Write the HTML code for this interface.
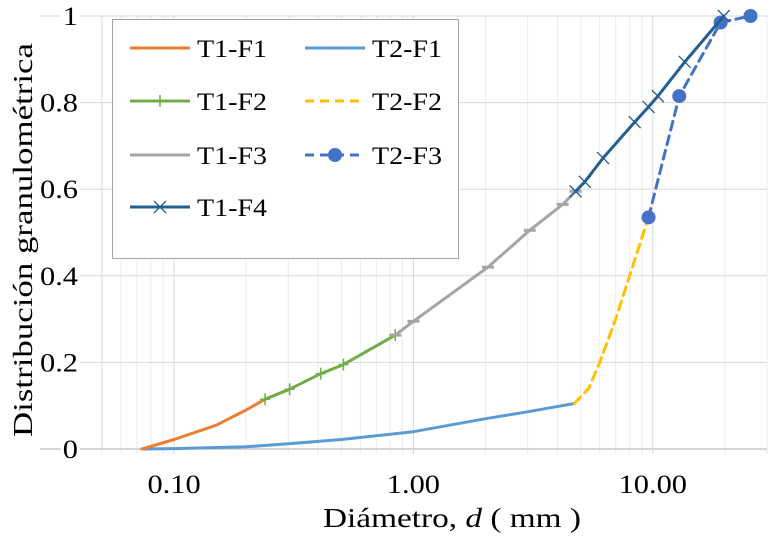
<!DOCTYPE html>
<html><head><meta charset="utf-8"><style>
body{margin:0;background:#fff;}
svg text{font-family:"Liberation Serif",serif;fill:#000;}
</style></head><body>
<svg id="chart" width="782" height="537"></svg>
<script>
const xTicks=[0.1,1,10];
const xTickLabels=["0.10","1.00","10.00"];
const yTicks=[0,0.2,0.4,0.6,0.8,1];
const yTickLabels=["0","0.2","0.4","0.6","0.8","1"];
const t1f1X=[0.0734,0.1,0.15,0.2,0.24];
const t1f1Y=[0,0.022,0.055,0.09,0.115];
const t1f2X=[0.24,0.304,0.41,0.51,0.84];
const t1f2Y=[0.115,0.138,0.174,0.195,0.263];
const t1f3X=[0.84,1.0,2.05,3.06,4.2,4.76];
const t1f3Y=[0.263,0.295,0.42,0.505,0.565,0.595];
const t1f4X=[4.76,5.2,6.2,8.4,9.6,10.5,13.6,19.8];
const t1f4Y=[0.595,0.617,0.672,0.755,0.79,0.815,0.894,1.0];
const t2f1X=[0.0734,0.1,0.2,0.3,0.5,1.0,2.0,3.0,4.7];
const t2f1Y=[0,0.001,0.005,0.012,0.022,0.04,0.07,0.086,0.105];
const t2f2X=[4.7,5.4,6.0,7.0,8.0,9.6];
const t2f2Y=[0.105,0.14,0.2,0.3,0.4,0.535];
const t2f3X=[9.6,12.9,19.2,25.6];
const t2f3Y=[0.535,0.815,0.985,1.0];

const L=102,R=767,T=16,B=449;
const xmin=0.05,xmax=30;
const SX=1.17;
const X=v=>L+(Math.log10(v)-Math.log10(xmin))/(Math.log10(xmax)-Math.log10(xmin))*(R-L);
const Y=v=>B-v*(B-T);
const NS="http://www.w3.org/2000/svg";
const svg=document.getElementById('chart');
function el(t,a,p){const e=document.createElementNS(NS,t);for(const k in a)e.setAttribute(k,a[k]);(p||svg).appendChild(e);return e;}
function stretch(t,len){const w=len||t.getComputedTextLength()*SX;t.setAttribute('textLength',w.toFixed(1));t.setAttribute('lengthAdjust','spacingAndGlyphs');}

const grid=el('g',{});


for(let d=-2;d<=1;d++)for(let m=1;m<=9;m++){const v=m*Math.pow(10,d);if(v<xmin-1e-9||v>xmax+1e-9)continue;
 el('line',{x1:X(v),x2:X(v),y1:T,y2:B+5,stroke:m===1?'#d9d9d9':'#ececec','stroke-width':1},grid);}
yTicks.forEach(v=>{el('line',{x1:40,x2:R,y1:Y(v),y2:Y(v),stroke:'#d9d9d9','stroke-width':1},grid);});
el('line',{x1:L,x2:L,y1:T,y2:B,stroke:'#d9d9d9'},grid);
const xa=el('line',{x1:40,x2:R,y1:B,y2:B,stroke:'#bfbfbf','stroke-width':1.2});



yTicks.forEach((v,i)=>{const t=el('text',{x:78,y:Y(v)+9,'font-size':26,'text-anchor':'end'});t.textContent=yTickLabels[i];


const bg=el('rect',{x:78-t.getComputedTextLength()*SX-2,y:Y(v)-12,width:t.getComputedTextLength()*SX+4,height:24,fill:'#fff'});svg.insertBefore(bg,t);
stretch(t);});
xTicks.forEach((v,i)=>{const t=el('text',{x:X(v),y:493,'font-size':26,'text-anchor':'middle'});t.textContent=xTickLabels[i];

stretch(t);});

const yt=el('text',{x:0,y:0,'font-size':27,'text-anchor':'middle',transform:'translate(32,240) rotate(-90)'});
yt.textContent='Distribución granulométrica';


stretch(yt,394);
const xt=el('text',{x:452,y:527,'font-size':27,'text-anchor':'middle'});
xt.innerHTML='Diámetro, <tspan font-style="italic">d</tspan>  ( mm )';


stretch(xt,258);

function path(xs,ys){return xs.map((x,i)=>(i?'L':'M')+X(x).toFixed(1)+' '+Y(ys[i]).toFixed(1)).join(' ');}
function series(name,xs,ys,color,dash,marker){
 const g=el('g',{});
 
 
 const a={d:path(xs,ys),fill:'none',stroke:color,'stroke-width':3,'stroke-linejoin':'round','stroke-linecap':'round'};
 if(dash)a['stroke-dasharray']=dash;
 el('path',a,g);
 if(marker)xs.forEach((x,i)=>{const cx=X(x),cy=Y(ys[i]);
  if(marker==='plus'){el('path',{d:`M${cx-5} ${cy}h10M${cx} ${cy-6}v12`,stroke:color,'stroke-width':1.5},g);}
  if(marker==='dash'){el('path',{d:`M${cx-6} ${cy}h12`,stroke:color,'stroke-width':3},g);}
  if(marker==='x'){el('path',{d:`M${cx-6} ${cy-6}l12 12M${cx-6} ${cy+6}l12 -12`,stroke:color,'stroke-width':1.3},g);}
  if(marker==='dot'){el('circle',{cx,cy,r:7,fill:color},g);}
 });
}
series('series-t2-f1',t2f1X,t2f1Y,'#5b9bd5');
series('series-t2-f2',t2f2X,t2f2Y,'#ffc000','9 6');
series('series-t1-f1',t1f1X,t1f1Y,'#ed7d31');
series('series-t1-f2',t1f2X,t1f2Y,'#70ad47',null,'plus');
series('series-t1-f3',t1f3X,t1f3Y,'#a5a5a5',null,'dash');
series('series-t2-f3',t2f3X,t2f3Y,'#4472c4','9 6','dot');
series('series-t1-f4',t1f4X,t1f4Y,'#255e91',null,'x');

const lg=el('g',{});


el('rect',{x:112.5,y:19.5,width:346,height:239,fill:'#fff',stroke:'#a6a6a6'},lg);
const entries=[['T1-F1','#ed7d31',null,null,130,48],['T1-F2','#70ad47',null,'plus',130,101],['T1-F3','#a5a5a5',null,'dash',130,155],['T1-F4','#255e91',null,'x',130,207],
['T2-F1','#5b9bd5',null,null,305,48],['T2-F2','#ffc000','9 6',null,305,101],['T2-F3','#4472c4','9 6','dot',305,155]];
entries.forEach(e=>{const g=el('g',{},lg);
 
 
 const a={x1:e[4],x2:e[4]+60,y1:e[5],y2:e[5],stroke:e[1],'stroke-width':3};if(e[2])a['stroke-dasharray']=e[2];
 el('line',a,g);const cx=e[4]+30,cy=e[5];
 if(e[3]==='plus')el('path',{d:`M${cx-5} ${cy}h10M${cx} ${cy-6}v12`,stroke:e[1],'stroke-width':1.5},g);
 if(e[3]==='dash')el('path',{d:`M${cx-6} ${cy}h12`,stroke:e[1],'stroke-width':3},g);
 if(e[3]==='x')el('path',{d:`M${cx-6} ${cy-6}l12 12M${cx-6} ${cy+6}l12 -12`,stroke:e[1],'stroke-width':1.3},g);
 if(e[3]==='dot')el('circle',{cx,cy,r:7,fill:e[1]},g);
 const t=el('text',{x:e[4]+67,y:e[5]+9,'font-size':25},g);t.textContent=e[0];stretch(t,70);});
</script>
</body></html>
